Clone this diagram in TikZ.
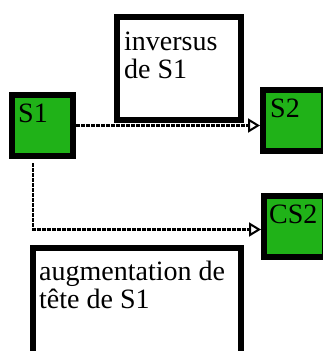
\documentclass[tikz,border=0pt]{standalone}
\usepackage{fontspec}
\setmainfont{Liberation Serif}
\usetikzlibrary{arrows.meta}
\definecolor{boxgreen}{RGB}{32,178,24}

\begin{document}
\begin{tikzpicture}[x=1pt, y=-1pt,
    greenbox/.style={draw, fill=boxgreen, line width=6pt, minimum size=61pt, inner sep=0pt},
    notebox/.style={draw, fill=white, line width=6pt, inner sep=0pt},
    boxtext/.style={anchor=base west, inner sep=0pt, align=left, font=\fontsize{28}{28}\selectfont},
    link/.style={line width=2.5pt, dash pattern=on 4pt off 1pt, -{Triangle[open, length=12pt, width=14pt, line width=2pt]}}]
    \useasboundingbox (0,0) rectangle (322,351);
    % boxes
    \node[greenbox] (s1) at (42.5,125.5) {};
    \node[greenbox] (s2) at (293.5,120.5) {};
    \node[greenbox] (cs2) at (294.5,226.5) {};
    \node[notebox, minimum width=124pt, minimum height=103pt] (inv) at (179,68.5) {};
    \node[notebox, minimum width=208pt, minimum height=110pt] (aug) at (137,303) {};
    % box texts (base = last line)
    \node[boxtext] (s1text) at ([shift={(9,30)}]s1.north west) {S1};
    \node[boxtext] (s2text) at ([shift={(10,30)}]s2.north west) {S2};
    \node[boxtext] (cs2text) at ([shift={(8,30)}]cs2.north west) {CS2};
    \node[boxtext] (invtext) at ([shift={(10,64)}]inv.north west) {inversus\\de S1};
    \node[boxtext] (augtext) at ([shift={(9,63)}]aug.north west) {augmentation de\\tête de S1};
    % links
    \draw[link] (s1.east) -- (s1.east -| s2.west);
    \draw[link] ([xshift=-9.5pt, yshift=-4pt]s1.south) |- ([yshift=-3pt]cs2.west);
\end{tikzpicture}
\end{document}
